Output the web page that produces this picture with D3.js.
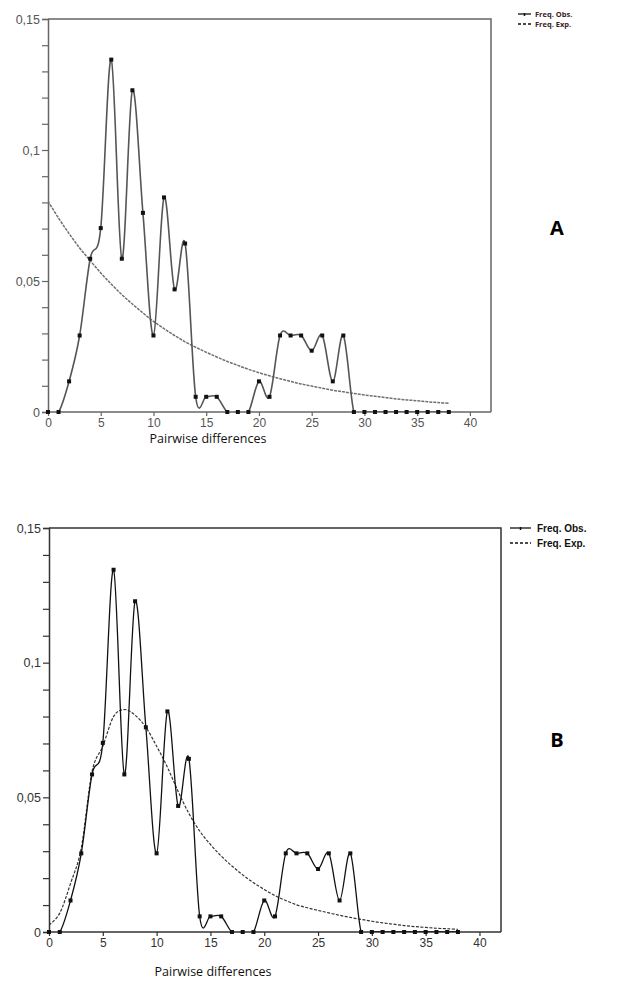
<!DOCTYPE html>
<html>
<head>
<meta charset="utf-8">
<script src="https://cdn.jsdelivr.net/npm/d3@7"></script>
<style>
  html, body { margin: 0; padding: 0; background: #fff; }
  svg { display: block; }
</style>
</head>
<body>
<svg id="chart" width="617" height="985"></svg>
<script>
// ---- Data ----
const pairwiseDiff = d3.range(0, 39); // 0..38
const obsFreq = [0, 0, 0.0117, 0.0292, 0.0585, 0.0702, 0.1345, 0.0585, 0.1228, 0.0760,
  0.0292, 0.0819, 0.0468, 0.0643, 0.0058, 0.0058, 0.0058, 0, 0, 0,
  0.0117, 0.0058, 0.0292, 0.0292, 0.0292, 0.0234, 0.0292, 0.0117, 0.0292, 0,
  0, 0, 0, 0, 0, 0, 0, 0, 0];
const expFreqA = [0.0805, 0.0740, 0.0681, 0.0626, 0.0578, 0.0531, 0.0488, 0.0448, 0.0412, 0.0378,
  0.0346, 0.0318, 0.0292, 0.0268, 0.0247, 0.0228, 0.0210, 0.0193, 0.0178, 0.0163,
  0.0150, 0.0138, 0.0127, 0.0117, 0.0107, 0.0099, 0.0091, 0.0083, 0.0077, 0.0071,
  0.0065, 0.0060, 0.0055, 0.0050, 0.0046, 0.0043, 0.0039, 0.0036, 0.0033];
const expFreqB = [0.0026, 0.0070, 0.0180, 0.0312, 0.0595, 0.0690, 0.0800, 0.0826, 0.0805, 0.0760,
  0.0690, 0.0612, 0.0522, 0.0440, 0.0375, 0.0325, 0.0282, 0.0245, 0.0212, 0.0183,
  0.0158, 0.0135, 0.0117, 0.0101, 0.0090, 0.0080, 0.0071, 0.0062, 0.0054, 0.0047,
  0.0040, 0.0034, 0.0029, 0.0024, 0.0020, 0.0017, 0.0014, 0.0012, 0.0010];
const yMajorTicks = [0, 0.05, 0.1, 0.15];
const yTickLabels = ["0", "0,05", "0,1", "0,15"];
const xTicks = [0, 5, 10, 15, 20, 25, 30, 35, 40];
const legendLabels = ["Freq. Obs.", "Freq. Exp."];
const xAxisTitle = "Pairwise differences";
const panelLabels = ["A", "B"];

const svg = d3.select("#chart");
const defs = svg.append("defs");
const numFont = "'Liberation Sans', Arial, sans-serif";

function drawPanel(cfg) {
  const g = svg.append("g");
  const x = d3.scaleLinear().domain([0, 42]).range([cfg.left, cfg.right]);
  const y = d3.scaleLinear().domain([0, 0.15]).range([cfg.bottom, cfg.top]);

  const clipId = "clip" + cfg.label;
  defs.append("clipPath").attr("id", clipId).append("rect")
    .attr("x", x(0)).attr("y", y(0.15))
    .attr("width", x(42) - x(0)).attr("height", y(0) - y(0.15));

  // Frame top & right
  g.append("path")
    .attr("d", `M${x(0)},${y(0.15)}H${x(42)}V${y(0)}`)
    .attr("fill", "none").attr("stroke", cfg.axisColor).attr("stroke-width", 1.5);

  // Y axis with minor ticks every 0.01
  const yAxis = d3.axisLeft(y).tickValues(d3.range(0, 0.1501, 0.01)).tickSize(6)
    .tickFormat(d => {
      const i = yMajorTicks.findIndex(t => Math.abs(t - d) < 1e-6);
      return i >= 0 ? yTickLabels[i] : "";
    });
  const ya = g.append("g").attr("transform", `translate(${x(0)},0)`).call(yAxis);
  ya.select(".domain").attr("stroke", cfg.axisColor).attr("stroke-width", 1.5);
  ya.selectAll(".tick line").attr("stroke", cfg.axisColor).attr("stroke-width", 1.2);
  ya.selectAll(".tick text").attr("fill", cfg.textColor)
    .style("font-family", numFont).style("font-size", "12.5px").attr("x", -8);

  // X axis
  const xAxis = d3.axisBottom(x).tickValues(xTicks).tickSize(4).tickSizeOuter(0);
  const xa = g.append("g").attr("transform", `translate(0,${y(0)})`).call(xAxis);
  xa.select(".domain").attr("stroke", cfg.axisColor).attr("stroke-width", 1.5)
    .attr("d", `M${x(0)},0H${x(42)}`);
  xa.selectAll(".tick line").attr("stroke", cfg.axisColor).attr("stroke-width", 1.2);
  xa.selectAll(".tick text").attr("fill", cfg.textColor)
    .style("font-family", numFont).style("font-size", "12px").attr("y", 6);

  const plot = g.append("g").attr("clip-path", `url(#${clipId})`);

  // Expected line
  const expLine = d3.line().x((d, i) => x(pairwiseDiff[i])).y(d => y(d)).curve(d3.curveCardinal.tension(0));
  plot.append("path").datum(cfg.exp)
    .attr("d", expLine).attr("fill", "none")
    .attr("stroke", cfg.expColor).attr("stroke-width", cfg.expWidth)
    .attr("stroke-dasharray", cfg.dash);

  // Observed line
  const obsLine = d3.line().x((d, i) => x(pairwiseDiff[i])).y(d => y(d)).curve(d3.curveCardinal.tension(0));
  plot.append("path").datum(obsFreq)
    .attr("d", obsLine).attr("fill", "none")
    .attr("stroke", cfg.obsColor).attr("stroke-width", cfg.obsWidth);

  // Markers
  g.selectAll("rect.pt").data(obsFreq).join("rect")
    .attr("class", "pt")
    .attr("x", (d, i) => x(pairwiseDiff[i]) - 2)
    .attr("y", d => y(d) - 2)
    .attr("width", 4).attr("height", 4)
    .attr("fill", "#111");

  // Legend
  const lg = g.append("g");
  legendLabels.forEach((lab, i) => {
    const ly = cfg.legendY + i * cfg.legendGap;
    lg.append("line").attr("x1", cfg.legendX1).attr("x2", cfg.legendX2)
      .attr("y1", ly).attr("y2", ly)
      .attr("stroke", "#111").attr("stroke-width", 1.3)
      .attr("stroke-dasharray", i === 1 ? "3,2" : null);
    if (i === 0) {
      const mx = (cfg.legendX1 + cfg.legendX2) / 2;
      lg.append("line").attr("x1", mx).attr("x2", mx).attr("y1", ly - 1).attr("y2", ly + 2)
        .attr("stroke", "#111").attr("stroke-width", 1.5);
    }
    lg.append("text").attr("x", cfg.legendTextX).attr("y", ly)
      .attr("dy", "0.35em")
      .attr("fill", cfg.legendColor)
      .style("font-family", cfg.legendFont).style("font-weight", "bold")
      .style("font-size", cfg.legendSize + "px")
      .text(lab);
  });

  // Axis title
  g.append("text").attr("x", cfg.titleX).attr("y", cfg.titleY)
    .attr("text-anchor", "middle").attr("fill", "#111")
    .style("font-family", "'Open Sans', sans-serif").style("font-size", "12.5px")
    .text(xAxisTitle);

  // Panel label
  g.append("text").attr("x", 557).attr("y", cfg.labelY)
    .attr("text-anchor", "middle").attr("dy", "0.35em").attr("fill", "#000")
    .style("font-family", "'Open Sans', sans-serif").style("font-weight", "bold")
    .style("font-size", "20px")
    .text(cfg.label);
}

drawPanel({
  left: 48, right: 491, top: 19, bottom: 412,
  axisColor: "#666", textColor: "#555",
  exp: expFreqA, expColor: "#707070", expWidth: 1.5, dash: "3,1",
  obsColor: "#555", obsWidth: 1.6,
  legendY: 14, legendGap: 10, legendX1: 518, legendX2: 531, legendTextX: 535,
  legendColor: "#3a2222", legendFont: "'Open Sans', sans-serif", legendSize: 7.5,
  titleX: 208, titleY: 443, labelY: 228, label: panelLabels[0]
});

drawPanel({
  left: 49, right: 501, top: 528, bottom: 932,
  axisColor: "#333", textColor: "#333",
  exp: expFreqB, expColor: "#333", expWidth: 1.2, dash: "3,1.5",
  obsColor: "#111", obsWidth: 1.3,
  legendY: 528, legendGap: 15, legendX1: 510, legendX2: 531, legendTextX: 537,
  legendColor: "#111", legendFont: "'Liberation Sans', Arial, sans-serif", legendSize: 10,
  titleX: 213, titleY: 976, labelY: 740, label: panelLabels[1]
});
</script>
</body>
</html>
